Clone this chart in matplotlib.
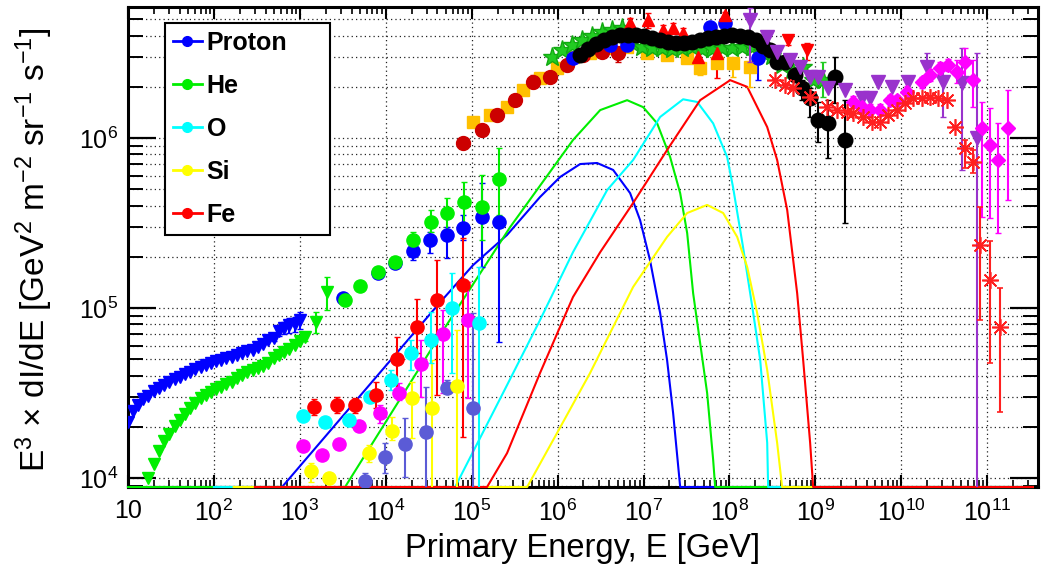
import numpy as np
import matplotlib
matplotlib.use("Agg")
import matplotlib.pyplot as plt
from matplotlib.ticker import LogLocator, FuncFormatter, NullFormatter
from matplotlib.lines import Line2D

FONT = ["Liberation Sans", "DejaVu Sans"]
plt.rcParams["font.family"] = FONT
plt.rcParams["mathtext.fontset"] = "custom"
plt.rcParams["mathtext.rm"] = "Liberation Sans"
plt.rcParams["mathtext.it"] = "Liberation Sans:italic"
plt.rcParams["mathtext.bf"] = "Liberation Sans:bold"

XMIN, XMAX = 10, 3.9e11
YMIN, YMAX = 8.85e3, 5.9e6

# ---------------- data: direct measurements (low energy) ----------------
p_dir_E = [10, 11.5, 13, 15, 17, 20, 23, 26, 30, 35, 40, 46, 53, 61, 70, 80, 92, 106, 122, 140,
           161, 185, 213, 245, 282, 324, 373, 430, 495, 570, 655, 755, 870, 1000]
p_dir_F = [2.13e4, 2.48e4, 2.69e4, 2.92e4, 3.03e4, 3.25e4, 3.38e4, 3.52e4, 3.67e4, 3.82e4, 3.93e4,
           4.09e4, 4.21e4, 4.38e4, 4.5e4, 4.62e4, 4.74e4, 4.88e4, 4.94e4, 5.08e4, 5.15e4, 5.3e4,
           5.43e4, 5.58e4, 5.66e4, 5.9e4, 6.14e4, 6.49e4, 6.67e4, 7.32e4, 7.62e4, 7.94e4, 8.05e4, 8.5e4]
p_dir_relerr = [0] * 28 + [0.04, 0.06, 0.08, 0.1, 0.1, 0.12]

he_dir_E = [17, 20, 23, 26, 30, 35, 40, 46, 53, 61, 70, 80, 92, 106, 122, 140, 161, 185, 213, 245,
            282, 324, 373, 430, 495, 570, 655, 755, 870, 1000, 1150, 1550, 2080]
he_dir_F = [1.0e4, 1.21e4, 1.44e4, 1.65e4, 1.82e4, 2.02e4, 2.19e4, 2.38e4, 2.58e4, 2.76e4, 2.96e4,
            3.08e4, 3.2e4, 3.34e4, 3.43e4, 3.57e4, 3.67e4, 3.87e4, 4.04e4, 4.21e4, 4.32e4, 4.44e4,
            4.56e4, 4.74e4, 5.08e4, 5.3e4, 5.51e4, 5.74e4, 6.06e4, 6.4e4, 6.75e4, 8.28e4, 1.24e5]
he_dir_relerr = [0] * 30 + [0.05, 0.14, 0.22]

cream_p_E = [3.18e3, 8.13e3, 1.28e4, 2.08e4, 3.28e4, 5.17e4, 7.95e4, 1.32e5, 2.08e5]
cream_p_F = [1.15e5, 1.61e5, 1.84e5, 2.16e5, 2.51e5, 2.69e5, 2.96e5, 3.43e5, 3.2e5]
cream_p_hi = [1.2e5, 1.68e5, 1.92e5, 2.41e5, 2.8e5, 2.99e5, 3.52e5, 5.43e5, 3.3e5]
cream_p_lo = [1.1e5, 1.55e5, 1.77e5, 1.92e5, 2.11e5, 1.97e5, 2.51e5, 1.74e5, 6.3e4]

cream_he_E = [3.36e3, 5.02e3, 8.13e3, 1.28e4, 2.08e4, 3.37e4, 5.17e4, 8.17e4, 1.32e5, 2.08e5]
cream_he_F = [1.11e5, 1.35e5, 1.63e5, 1.87e5, 2.51e5, 3.2e5, 3.62e5, 4.21e5, 3.93e5, 5.74e5]
cream_he_hi = [1.15e5, 1.4e5, 1.7e5, 1.95e5, 2.8e5, 3.77e5, 4.44e5, 5.51e5, 6.06e5, 8.73e5]
cream_he_lo = [1.07e5, 1.3e5, 1.56e5, 1.8e5, 2.25e5, 2.8e5, 2.8e5, 3.08e5, 2.51e5, 3.52e5]

fe_low_E = [1.46e3, 2.71e3, 4.39e3, 7.71e3, 1.36e4, 2.31e4, 3.95e4, 7.95e4]
fe_low_F = [2.62e4, 2.69e4, 2.69e4, 3.08e4, 5.01e4, 7.73e4, 1.11e5, 1.37e5]
fe_low_hi = [2.92e4, 2.99e4, 2.96e4, 3.67e4, 6.75e4, 1.13e5, 1.91e5, 2.58e5]
fe_low_lo = [2.35e4, 2.41e4, 2.41e4, 2.58e4, 3.3e4, 5.43e4, 3.08e4, 1.74e4]

o_low_E = [1.09e3, 1.96e3, 3.74e3, 6.56e3, 1.15e4, 1.97e4, 3.37e4, 5.92e4, 1.22e5]
o_low_F = [2.32e4, 2.13e4, 2.19e4, 2.99e4, 3.77e4, 5.43e4, 6.49e4, 1.0e5, 8.17e4]
o_low_hi = [2.32e4, 2.13e4, 2.19e4, 3.2e4, 4.32e4, 6.49e4, 9.46e4, 1.61e5, 1.74e5]
o_low_lo = [2.32e4, 2.13e4, 2.19e4, 2.8e4, 3.3e4, 4.32e4, 4.74e4, 4.15e4, 5e3]

mg_low_E = [1.09e3, 1.81e3, 2.86e3, 4.89e3, 8.59e3, 1.43e4, 2.58e4, 4.65e4, 9.08e4]
mg_low_F = [1.54e4, 1.37e4, 1.58e4, 2.02e4, 2.41e4, 3.16e4, 4.69e4, 7.03e4, 8.5e4]
mg_low_hi = [1.54e4, 1.37e4, 1.58e4, 2.02e4, 2.69e4, 3.62e4, 6.49e4, 9.73e4, 1.42e5]
mg_low_lo = [1.54e4, 1.37e4, 1.58e4, 2.02e4, 2.11e4, 2.88e4, 2.99e4, 3.16e4, 2.96e4]

si_low_E = [1.35e3, 2.19e3, 6.4e3, 1.18e4, 2.02e4, 3.46e4, 6.76e4]
si_low_F = [1.1e4, 1.0e4, 1.4e4, 1.89e4, 2.96e4, 2.58e4, 3.48e4]
si_low_hi = [1.22e4, 1.0e4, 1.56e4, 2.28e4, 3.67e4, 4.94e4, 7.43e4]
si_low_lo = [9.5e3, 1.0e4, 1.24e4, 1.67e4, 1.72e4, 5e3, 5e3]

sb_low_E = [5.74e3, 9.82e3, 1.68e4, 2.94e4, 5.17e4, 1.04e5]
sb_low_F = [9.6e3, 1.33e4, 1.58e4, 1.87e4, 3.38e4, 2.58e4]
sb_low_hi = [1.07e4, 1.61e4, 2.25e4, 3.43e4, 3.77e4, 9.35e4]
sb_low_lo = [8.5e3, 1.07e4, 1.01e4, 5e3, 3.16e4, 5e3]

# ---------------- data: air-shower measurements (high energy) ----------------
orng_E = [1.04e5, 1.64e5, 2.58e5, 3.96e5, 6.25e5, 9.86e5, 1.51e6, 2.39e6, 3.77e6, 6.44e6, 1.1e7,
          1.88e7, 3.22e7, 4.56e7, 7.2e7, 1.1e8, 1.74e8]
orng_F = [1.24e6, 1.36e6, 1.52e6, 1.91e6, 2.25e6, 2.58e6, 3.0e6, 3.16e6, 3.38e6, 3.43e6, 3.16e6,
          3.08e6, 2.96e6, 2.58e6, 2.76e6, 2.76e6, 2.62e6]
orng_lo = [1.24e6, 1.36e6, 1.52e6, 1.91e6, 2.25e6, 2.58e6, 3.0e6, 3.16e6, 3.38e6, 3.43e6, 3.16e6,
           3.08e6, 2.96e6, 2.35e6, 2.76e6, 2.28e6, 2.0e6]

dred_E = [7.95e4, 1.32e5, 1.98e5, 3.2e5, 5.19e5, 8.19e5, 1.29e6, 1.98e6, 3.3e6, 5.06e6]
dred_F = [9.35e5, 1.11e6, 1.36e6, 1.67e6, 2.13e6, 2.28e6, 2.69e6, 3.08e6, 3.2e6, 3.16e6]
dred_hi = [9.35e5, 1.11e6, 1.36e6, 1.67e6, 2.35e6, 2.28e6, 2.69e6, 3.08e6, 3.2e6, 3.38e6]
dred_lo = [9.35e5, 1.11e6, 1.36e6, 1.67e6, 1.97e6, 2.28e6, 2.69e6, 3.08e6, 3.2e6, 2.8e6]

gstar_E = [8.6e5, 1.13e6, 1.48e6, 1.93e6, 2.52e6, 3.3e6, 4.3e6, 5.64e6, 7.36e6, 9.6e6, 1.26e7,
           1.65e7, 2.15e7, 2.81e7, 3.68e7, 4.81e7, 6.3e7, 8.2e7, 1.07e8, 1.41e8, 1.84e8, 2.4e8,
           3.14e8, 4.1e8, 5.37e8, 7.2e8, 9.4e8, 1.23e9]
gstar_F = [2.99e6, 3.3e6, 3.52e6, 3.77e6, 3.98e6, 4.21e6, 4.32e6, 4.44e6, 3.6e6, 3.45e6, 3.4e6,
           3.38e6, 3.34e6, 3.38e6, 3.43e6, 3.34e6, 3.34e6, 3.38e6, 3.38e6, 3.43e6, 3.43e6, 3.21e6,
           3.03e6, 2.69e6, 2.51e6, 2.62e6, 2.19e6, 2.19e6]
gstar_hi = gstar_F[:-1] + [2.8e6]
gstar_lo = gstar_F[:-1] + [1.74e6]

black_E = [1.83e6, 2.26e6, 2.81e6, 3.48e6, 4.3e6, 5.34e6, 6.62e6, 8.2e6, 1.02e7, 1.26e7, 1.56e7,
           1.93e7, 2.4e7, 2.97e7, 3.68e7, 4.56e7, 5.65e7, 7.0e7, 8.67e7, 1.07e8, 1.33e8, 1.65e8,
           2.05e8, 2.47e8, 2.98e8, 3.59e8, 4.45e8, 5.82e8, 7.02e8, 8.69e8, 1.08e9, 1.41e9, 1.7e9,
           2.22e9]
black_F = [3.08e6, 3.34e6, 3.57e6, 3.77e6, 3.93e6, 4.04e6, 4.04e6, 4.04e6, 3.98e6, 3.87e6, 3.77e6,
           3.67e6, 3.62e6, 3.62e6, 3.67e6, 3.77e6, 3.87e6, 3.93e6, 3.98e6, 4.04e6, 3.98e6, 3.93e6,
           3.77e6, 3.48e6, 3.3e6, 2.8e6, 2.8e6, 2.35e6, 1.97e6, 1.72e6, 1.28e6, 1.22e6, 2.28e6,
           9.73e5]
black_hi = black_F[:28] + [2.19e6, 1.97e6, 1.63e6, 1.67e6, 2.99e6, 1.67e6]
black_lo = black_F[:28] + [1.67e6, 1.33e6, 9.5e5, 7.6e5, 1.61e6, 3.16e5]

bhigh_E = [1.51e6, 4.08e6, 6.44e6, 5.96e7, 8.91e7, 2.16e8]
bhigh_F = [2.96e6, 3.52e6, 3.52e6, 4.5e6, 4.74e6, 2.96e6]
bhigh_hi = [2.96e6, 3.52e6, 3.52e6, 4.5e6, 4.74e6, 3.62e6]
bhigh_lo = [2.96e6, 3.52e6, 3.52e6, 4.5e6, 4.74e6, 2.19e6]

rtri_E = [6.98e6, 1.13e7, 1.69e7, 2.21e7, 2.89e7, 4.33e7, 7.2e7, 8.91e7]
rtri_F = [4.74e6, 4.94e6, 4.32e6, 4.44e6, 4.15e6, 2.99e6, 3.16e6, 5.3e6]
rtri_hi = [5.08e6, 5.43e6, 4.62e6, 4.74e6, 4.44e6, 3.3e6, 3.52e6, 5.51e6]
rtri_lo = [4.44e6, 4.44e6, 4.04e6, 4.15e6, 3.87e6, 2.51e6, 2.25e6, 4.94e6]

rdown_E = [4.82e8, 8.0e8]
rdown_F = [3.77e6, 3.3e6]
rdown_hi = [4.04e6, 3.62e6]
rdown_lo = [3.52e6, 2.88e6]

purp_E = [1.74e8, 2.75e8, 3.59e8, 5.09e8, 6.65e8, 8.69e8, 1.08e9, 1.41e9, 2.22e9, 3.51e9, 4.35e9,
          5.38e9, 7.84e9, 1.2e10, 2.0e10, 3.07e10, 5.12e10, 7.65e10]
purp_F = [4.94e6, 3.93e6, 3.21e6, 2.88e6, 2.62e6, 2.28e6, 2.28e6, 1.97e6, 1.91e6, 1.72e6, 1.72e6,
          2.13e6, 2.0e6, 2.13e6, 2.62e6, 2.13e6, 2.11e6, 1.0e6]
purp_hi = [5.82e6, 3.93e6, 3.21e6, 2.88e6, 2.62e6, 2.28e6, 2.28e6, 1.97e6, 1.91e6, 1.72e6, 1.72e6,
           2.13e6, 2.0e6, 2.13e6, 3.16e6, 2.62e6, 3.38e6, 3.16e6]
purp_lo = [2.8e6, 3.93e6, 3.21e6, 2.88e6, 2.62e6, 2.28e6, 2.28e6, 1.97e6, 1.91e6, 1.72e6, 1.72e6,
           2.13e6, 2.0e6, 2.13e6, 2.19e6, 1.33e6, 6.49e5, 5e3]

mag_E = [2.75e9, 3.51e9, 4.35e9, 5.68e9, 7.43e9, 8.96e9, 1.17e10, 1.75e10, 2.17e10, 2.84e10,
         3.52e10, 4.48e10, 5.55e10, 6.88e10, 8.75e10, 1.08e11, 1.34e11, 1.75e11]
mag_F = [1.63e6, 1.52e6, 1.46e6, 1.46e6, 1.67e6, 1.67e6, 1.87e6, 2.13e6, 2.35e6, 2.58e6, 2.69e6,
         2.44e6, 2.8e6, 2.19e6, 1.15e6, 9.1e5, 7.43e5, 1.15e6]
mag_hi = [1.76e6, 1.64e6, 1.58e6, 1.58e6, 1.8e6, 1.8e6, 2.02e6, 2.3e6, 2.54e6, 2.79e6, 2.9e6,
          2.88e6, 3.38e6, 2.88e6, 1.63e6, 1.5e6, 1.22e6, 1.91e6]
mag_lo = [1.5e6, 1.4e6, 1.34e6, 1.34e6, 1.54e6, 1.54e6, 1.72e6, 1.96e6, 2.16e6, 2.37e6, 2.47e6,
          2.11e6, 2.19e6, 1.52e6, 3.43e5, 3.38e5, 2.76e5, 4.32e5]

ast_E = [3.4e8, 4.45e8, 5.51e8, 8.69e8, 1.37e9, 1.79e9, 2.34e9, 2.75e9, 3.6e9, 4.58e9, 5.68e9,
         7.03e9, 8.96e9, 1.11e10, 1.37e10, 1.75e10, 2.17e10, 2.69e10, 3.42e10, 4.24e10, 5.55e10,
         6.88e10, 8.28e10, 1.08e11, 1.42e11]
ast_F = [2.19e6, 2.05e6, 1.97e6, 1.74e6, 1.52e6, 1.46e6, 1.42e6, 1.4e6, 1.33e6, 1.24e6, 1.24e6,
         1.36e6, 1.46e6, 1.61e6, 1.72e6, 1.72e6, 1.74e6, 1.72e6, 1.67e6, 1.16e6, 8.73e5, 7.23e5,
         2.35e5, 1.46e5, 7.73e4]
ast_hi = ast_F[:20] + [9.73e5, 8.5e5, 3.93e5, 2.48e5, 1.31e5]
ast_lo = ast_F[:20] + [6.67e5, 6.22e5, 8.5e4, 4.74e4, 2.45e4]

# ---------------- data: model curves (values below the frame drawn on its edge) ----------------
p_curve_E = [10, 621, 4.29e4, 1.04e5, 2.58e5, 6.25e5, 1.07e6, 1.83e6, 2.88e6, 4.43e6, 6.98e6,
             9.12e6, 1.19e7, 1.56e7, 1.88e7, 2.21e7, 2.67e7, 3.4e11]
p_curve_F = [1e3, 8.85e3, 1.08e5, 1.79e5, 2.69e5, 4.5e5, 5.9e5, 7.03e5, 7.13e5, 6.49e5, 4.74e5,
             3.29e5, 1.91e5, 9.35e4, 4.94e4, 2.41e4, 8.85e3, 1e3]
he_curve_E = [10, 3.36e3, 4.29e4, 2.8e5, 1.51e6, 3.13e6, 6.44e6, 9.89e6, 1.44e7, 2.04e7, 2.67e7,
              3.22e7, 3.78e7, 4.56e7, 5.5e7, 6.46e7, 6.82e7, 3.4e11]
he_curve_F = [1e3, 8.85e3, 6.93e4, 2.99e5, 9.73e5, 1.46e6, 1.67e6, 1.52e6, 1.22e6, 7.73e5, 4.74e5,
              2.76e5, 1.22e5, 6.22e4, 3.16e4, 1.28e4, 8.85e3, 1e3]
o_curve_E = [100, 6.41e4, 2.58e5, 6.25e5, 1.51e6, 3.77e6, 7.57e6, 1.56e7, 2.89e7, 4.21e7, 6.46e7,
             9.4e7, 1.1e8, 1.44e8, 1.89e8, 2.28e8, 2.75e8, 2.82e8, 3.4e11]
o_curve_F = [1e3, 8.85e3, 3.52e4, 8.5e4, 2.13e5, 4.94e5, 7.43e5, 1.33e6, 1.69e6, 1.63e6, 1.22e6,
             7.73e5, 5.15e5, 2.28e5, 9.35e4, 4.94e4, 1.61e4, 8.85e3, 1e3]
si_curve_E = [170, 4.42e5, 9.86e5, 2.39e6, 5.34e6, 7.57e6, 1.88e7, 3.22e7, 5.5e7, 8.45e7, 1.23e8,
              1.61e8, 2.1e8, 2.75e8, 3.59e8, 4.1e8, 3.4e11]
si_curve_F = [1e3, 8.85e3, 1.84e4, 4.15e4, 9.35e4, 1.33e5, 2.62e5, 3.62e5, 4.04e5, 3.62e5, 2.62e5,
              1.74e5, 9.35e4, 4.32e4, 1.61e4, 8.85e3, 1e3]
fe_curve_E = [300, 1.51e5, 2.58e5, 6.25e5, 1.51e6, 3.13e6, 7.57e6, 1.88e7, 4.56e7, 1.02e8, 1.61e8,
              2.75e8, 3.59e8, 4.7e8, 6.14e8, 7.21e8, 8.69e8, 9.42e8, 3.4e11]
fe_curve_F = [1e3, 8.85e3, 1.4e4, 4.15e4, 1.16e5, 2.13e5, 4.15e5, 8.5e5, 1.67e6, 2.19e6, 2.0e6,
              1.16e6, 7.43e5, 3.77e5, 1.22e5, 4.94e4, 1.61e4, 8.85e3, 1e3]

leg_labels = ["Proton", "He", "O", "Si", "Fe"]
leg_colors = ["#0000ff", "#00ee00", "#00ffff", "#ffff00", "#ff0000"]
x_ticks = [1e1, 1e2, 1e3, 1e4, 1e5, 1e6, 1e7, 1e8, 1e9, 1e10, 1e11]
y_ticks = [1e4, 1e5, 1e6]

# ---------------- figure ----------------
fig = plt.figure(figsize=(10.46, 5.65), dpi=100)
ax = fig.add_axes([128 / 1046, 78 / 565, 910 / 1046, 480 / 565])
ax.set_xscale("log")
ax.set_yscale("log")
ax.set_xlim(XMIN, XMAX)
ax.set_ylim(YMIN, YMAX)

EKW = dict(elinewidth=1.5, capsize=2.5, capthick=1.5)


def eb(E, F, hi, lo, color, marker, ms, z, mec=None, mew=1.0):
    E = np.asarray(E, float)
    F = np.asarray(F, float)
    hi = np.asarray(hi, float)
    lo = np.asarray(lo, float)
    ax.errorbar(E, F, yerr=[F - lo, hi - F], fmt="", marker=marker, linestyle="none",
                color=color, ms=ms, mec=mec if mec else color, mew=mew, zorder=z, **EKW)


def eb_rel(E, F, rel, color, marker, ms, z):
    F = np.asarray(F, float)
    rel = np.asarray(rel, float)
    eb(E, F, F * (1 + rel), F * (1 - rel), color, marker, ms, z)


# model curves
for cE, cF, col in [(p_curve_E, p_curve_F, leg_colors[0]), (he_curve_E, he_curve_F, leg_colors[1]),
                    (o_curve_E, o_curve_F, leg_colors[2]), (si_curve_E, si_curve_F, leg_colors[3]),
                    (fe_curve_E, fe_curve_F, leg_colors[4])]:
    ax.plot(cE, np.clip(np.asarray(cF, float), YMIN, None), color=col, lw=1.5, zorder=3,
            clip_on=False, solid_joinstyle="round")

# low-energy data
eb_rel(p_dir_E, p_dir_F, p_dir_relerr, "#0000ff", "v", 9, 5)
eb_rel(he_dir_E, he_dir_F, he_dir_relerr, "#00ee00", "v", 9, 5)
eb(cream_p_E, cream_p_F, cream_p_hi, cream_p_lo, "#0000ff", "o", 9.5, 5)
eb(cream_he_E, cream_he_F, cream_he_hi, cream_he_lo, "#00ee00", "o", 9.5, 5)
eb(sb_low_E, sb_low_F, sb_low_hi, sb_low_lo, "#5b5bd6", "o", 9.5, 5)
eb(si_low_E, si_low_F, si_low_hi, si_low_lo, "#ffff00", "o", 9.5, 5)
eb(mg_low_E, mg_low_F, mg_low_hi, mg_low_lo, "#ff00ff", "o", 9.5, 5)
eb(o_low_E, o_low_F, o_low_hi, o_low_lo, "#00ffff", "o", 9.5, 5)
eb(fe_low_E, fe_low_F, fe_low_hi, fe_low_lo, "#ff0000", "o", 9.5, 5)

# high-energy data
eb(orng_E, orng_F, orng_F, orng_lo, "#ffc000", "s", 9, 5)
eb(dred_E, dred_F, dred_hi, dred_lo, "#cc0000", "o", 10, 5)
eb(gstar_E, gstar_F, gstar_hi, gstar_lo, "#22cc22", "*", 14, 5, mec="#11aa11")
eb(bhigh_E, bhigh_F, bhigh_hi, bhigh_lo, "#0000ff", "o", 9.5, 5)
eb(rtri_E, rtri_F, rtri_hi, rtri_lo, "#ff0000", "^", 9, 5)
eb(rdown_E, rdown_F, rdown_hi, rdown_lo, "#ff0000", "v", 9, 5)
eb(black_E, black_F, black_hi, black_lo, "#000000", "o", 10.5, 6)
eb(purp_E, purp_F, purp_hi, purp_lo, "#9933cc", "v", 10.5, 6)
eb(mag_E, mag_F, mag_hi, mag_lo, "#ff00ff", "D", 7.5, 6)
eb(ast_E, ast_F, ast_hi, ast_lo, "#ff2020", (8, 2, 0), 12, 7, mew=1.2)

# axes styling
for s in ax.spines.values():
    s.set_linewidth(2.2)
    s.set_zorder(2.5)

ax.xaxis.set_major_locator(LogLocator(base=10, numticks=30))
ax.xaxis.set_minor_locator(LogLocator(base=10, subs=np.arange(2, 10), numticks=300))
ax.yaxis.set_major_locator(LogLocator(base=10, numticks=30))
ax.yaxis.set_minor_locator(LogLocator(base=10, subs=np.arange(2, 10), numticks=300))
ax.xaxis.set_minor_formatter(NullFormatter())
ax.yaxis.set_minor_formatter(NullFormatter())
ax.set_xticks(x_ticks)
ax.set_yticks(y_ticks)


def xfmt(v, pos):
    n = int(round(np.log10(v)))
    return "10" if n == 1 else r"$10^{%d}$" % n


ax.xaxis.set_major_formatter(FuncFormatter(xfmt))
ax.yaxis.set_major_formatter(FuncFormatter(lambda v, p: r"$10^{%d}$" % int(round(np.log10(v)))))

ax.tick_params(which="both", direction="in", top=True, right=True, labelsize=18, color="black")
ax.tick_params(axis="x", which="major", length=8.6, width=1.5, pad=9)
ax.tick_params(axis="x", which="minor", length=5, width=1.2)
ax.tick_params(axis="y", which="major", length=20, width=1.6, pad=7)
ax.tick_params(axis="y", which="minor", length=10.8, width=1.4)

ax.set_axisbelow(True)
ax.xaxis.grid(True, which="major", linestyle=(0, (1, 2.5)), color="#222222", lw=0.9)
ax.yaxis.grid(True, which="both", linestyle=(0, (1, 2.5)), color="#222222", lw=0.9)

ax.set_xlabel("Primary Energy, E [GeV]", fontsize=23.5)
ax.xaxis.set_label_coords(0.5, -0.096)
ax.set_ylabel(r"E$^{3}$ × dI/dE [GeV$^{2}$ m$^{-2}$ sr$^{-1}$ s$^{-1}$]", fontsize=24)
ax.yaxis.set_label_coords(-0.080, 0.494)

handles = [Line2D([], [], color=c, lw=2, marker="o", ms=7) for c in leg_colors]
leg = ax.legend(handles, leg_labels, loc="upper left",
                bbox_to_anchor=(0.0407, 0.529, 0.1813, 0.4375), mode="expand",
                borderaxespad=0, fancybox=False, edgecolor="black", framealpha=1,
                prop={"family": FONT, "weight": "bold", "size": 18},
                handlelength=1.15, handletextpad=0.2, labelspacing=0.76, borderpad=0.32)
leg.get_frame().set_linewidth(1.5)
leg.set_zorder(20)

fig.savefig("out.png", dpi=100)
